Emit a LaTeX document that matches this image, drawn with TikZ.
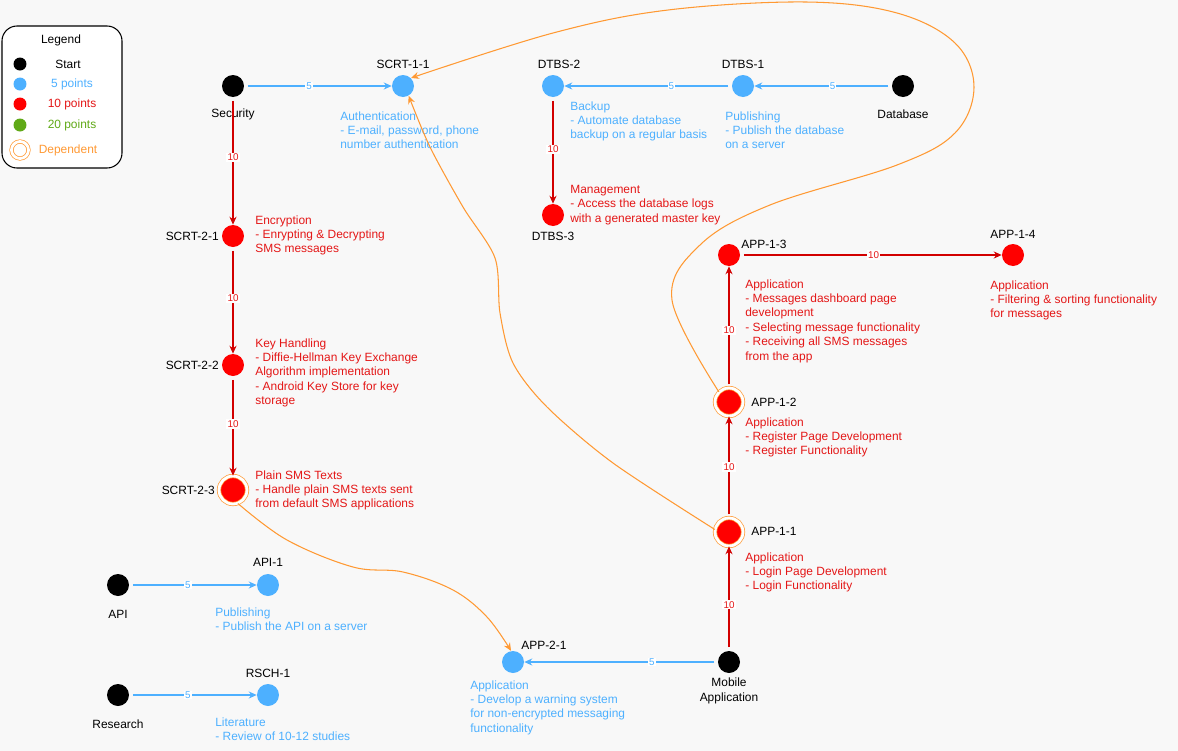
\documentclass[tikz,border=0pt]{standalone}
\usepackage{fontspec}
\setmainfont{Liberation Sans}
\usepackage{xcolor}
\usetikzlibrary{arrows.meta}

\definecolor{cbg}{RGB}{248,248,248}
\definecolor{cblue}{RGB}{77,176,255}
\definecolor{cred}{RGB}{255,0,0}
\definecolor{credln}{RGB}{210,0,0}
\definecolor{credtx}{RGB}{228,22,22}
\definecolor{corange}{RGB}{255,153,51}
\definecolor{cgreen}{RGB}{96,169,23}

\begin{document}
\begin{tikzpicture}[x=0.02cm,y=-0.02cm,
    every node/.style={font=\fontsize{6.8}{8.2}\selectfont},
    startdot/.style={circle,fill=black,minimum size=0.44cm,inner sep=0pt},
    fivedot/.style={circle,fill=cblue,minimum size=0.44cm,inner sep=0pt},
    tendot/.style={circle,fill=cred,minimum size=0.44cm,inner sep=0pt},
    twentydot/.style={circle,fill=cgreen,minimum size=0.44cm,inner sep=0pt},
    depdot/.style={circle,fill=cred,minimum size=0.56cm,inner sep=0pt,
        draw=corange,line width=0.4pt,double=white,double distance=1.6pt},
    fiveline/.style={draw=cblue,line width=0.6pt,shorten <=2pt,-{Stealth[length=4.5pt,width=4pt]}},
    tenline/.style={draw=credln,line width=0.6pt,shorten <=2pt,-{Stealth[length=4.5pt,width=4pt]}},
    depline/.style={draw=corange,line width=0.6pt,-{Stealth[length=4.5pt,width=4pt]}},
    fivelbl/.style={fill=white,text=cblue,inner sep=0.6pt,font=\fontsize{5.6}{6}\selectfont},
    tenlbl/.style={fill=white,text=credtx,inner sep=0.6pt,font=\fontsize{5.6}{6}\selectfont},
    idtag/.style={inner sep=0pt},
    bluetxt/.style={text=cblue,align=left,anchor=north west,inner sep=0pt},
    redtxt/.style={text=credtx,align=left,anchor=north west,inner sep=0pt}]

    % page
    \fill[cbg] (0,0) rectangle (1178,751);
    \useasboundingbox (0,0) rectangle (1178,751);

    % legend
    \draw[rounded corners=0.3cm,fill=white,line width=0.6pt] (2,26) rectangle (122,168);
    \node (lg-title) at (61,40) {Legend};
    \node[startdot,minimum size=0.26cm] (lg-start) at (20,64) {};
    \node (lg-start-txt) at (68,64) {Start};
    \node[fivedot,minimum size=0.26cm] (lg-five) at (20,84) {};
    \node[text=cblue] (lg-five-txt) at (72,84) {5 points};
    \node[tendot,minimum size=0.26cm] (lg-ten) at (20,104) {};
    \node[text=credtx] (lg-ten-txt) at (72,104) {10 points};
    \node[twentydot,minimum size=0.26cm] (lg-twenty) at (20,125) {};
    \node[text=cgreen] (lg-twenty-txt) at (72,125) {20 points};
    \node[depdot,fill=white,minimum size=0.34cm] (lg-dep) at (20,150) {};
    \node[text=corange] (lg-dep-txt) at (68,150) {Dependent};

    % security
    \node[startdot] (sec) at (233,86) {};
    \node[idtag] (sec-id) at (233,114) {Security};
    \node[fivedot] (scrt11) at (403,86) {};
    \node[idtag] (scrt11-id) at (403,64) {SCRT-1-1};
    \node[bluetxt] (scrt11-txt) at (340,111) {Authentication\\- E-mail, password, phone\\number authentication};
    \node[tendot] (scrt21) at (233,236) {};
    \node[idtag,anchor=east] (scrt21-id) at (219,236) {SCRT-2-1};
    \node[redtxt] (scrt21-txt) at (255,215) {Encryption\\- Enrypting \& Decrypting\\SMS messages};
    \node[tendot] (scrt22) at (233,365) {};
    \node[idtag,anchor=east] (scrt22-id) at (219,365) {SCRT-2-2};
    \node[redtxt] (scrt22-txt) at (255,338) {Key Handling\\- Diffie-Hellman Key Exchange\\Algorithm implementation\\- Android Key Store for key\\storage};
    \node[depdot] (scrt23) at (233,490) {};
    \node[idtag,anchor=east] (scrt23-id) at (215,490) {SCRT-2-3};
    \node[redtxt] (scrt23-txt) at (255,470) {Plain SMS Texts\\- Handle plain SMS texts sent\\from default SMS applications};

    % database
    \node[startdot] (dbs) at (903,86) {};
    \node[idtag] (dbs-id) at (903,114) {Database};
    \node[fivedot] (dtbs1) at (743,86) {};
    \node[idtag] (dtbs1-id) at (743,64) {DTBS-1};
    \node[bluetxt] (dtbs1-txt) at (725,111) {Publishing\\- Publish the database\\on a server};
    \node[fivedot] (dtbs2) at (553,86) {};
    \node[idtag] (dtbs2-id) at (559,64) {DTBS-2};
    \node[bluetxt] (dtbs2-txt) at (570,101) {Backup\\- Automate database\\backup on a regular basis};
    \node[tendot] (dtbs3) at (553,215) {};
    \node[idtag] (dtbs3-id) at (553,236) {DTBS-3};
    \node[redtxt] (dtbs3-txt) at (570,185) {Management\\- Access the database logs\\with a generated master key};

    % mobile application
    \node[startdot] (mob) at (729,662) {};
    \node[idtag,align=center] (mob-id) at (729,691) {Mobile\\Application};
    \node[depdot] (app11) at (729,532) {};
    \node[idtag,anchor=west] (app11-id) at (751,531) {APP-1-1};
    \node[redtxt] (app11-txt) at (745,552) {Application\\- Login Page Development\\- Login Functionality};
    \node[depdot] (app12) at (729,402) {};
    \node[idtag,anchor=west] (app12-id) at (751,402) {APP-1-2};
    \node[redtxt] (app12-txt) at (745,417) {Application\\- Register Page Development\\- Register Functionality};
    \node[tendot] (app13) at (729,255) {};
    \node[idtag,anchor=west] (app13-id) at (741,244) {APP-1-3};
    \node[redtxt] (app13-txt) at (745,279) {Application\\- Messages dashboard page\\development\\- Selecting message functionality\\- Receiving all SMS messages\\from the app};
    \node[tendot] (app14) at (1013,255) {};
    \node[idtag] (app14-id) at (1013,234) {APP-1-4};
    \node[redtxt] (app14-txt) at (990,280) {Application\\- Filtering \& sorting functionality\\for messages};
    \node[fivedot] (app21) at (513,662) {};
    \node[idtag,anchor=west] (app21-id) at (521,645) {APP-2-1};
    \node[bluetxt] (app21-txt) at (470,680) {Application\\- Develop a warning system\\for non-encrypted messaging\\functionality};

    % api and research
    \node[startdot] (api) at (118,585) {};
    \node[idtag] (api-id) at (118,614) {API};
    \node[fivedot] (api1) at (268,585) {};
    \node[idtag] (api1-id) at (268,562) {API-1};
    \node[bluetxt] (api1-txt) at (215,607) {Publishing\\- Publish the API on a server};
    \node[startdot] (rsch) at (118,695) {};
    \node[idtag] (rsch-id) at (118,724) {Research};
    \node[fivedot] (rsch1) at (268,695) {};
    \node[idtag] (rsch1-id) at (268,673) {RSCH-1};
    \node[bluetxt] (rsch1-txt) at (215,717) {Literature\\- Review of 10-12 studies};

    % point connectors
    \draw[fiveline] (sec) -- node[fivelbl,pos=0.44]{5} (scrt11);
    \draw[tenline] (sec) -- node[tenlbl,pos=0.47]{10} (scrt21);
    \draw[tenline] (scrt21) -- node[tenlbl,pos=0.48]{10} (scrt22);
    \draw[tenline] (scrt22) -- node[tenlbl,pos=0.48]{10} (scrt23);
    \draw[fiveline] (dbs) -- node[fivelbl,pos=0.43]{5} (dtbs1);
    \draw[fiveline] (dtbs1) -- node[fivelbl,pos=0.36]{5} (dtbs2);
    \draw[tenline] (dtbs2) -- node[tenlbl,pos=0.49]{10} (dtbs3);
    \draw[tenline] (mob) -- node[tenlbl,pos=0.44]{10} (app11);
    \draw[tenline] (app11) -- node[tenlbl,pos=0.5]{10} (app12);
    \draw[tenline] (app12) -- node[tenlbl,pos=0.475]{10} (app13);
    \draw[tenline] (app13) -- node[tenlbl,pos=0.51]{10} (app14);
    \draw[fiveline] (mob) -- node[fivelbl,pos=0.34]{5} (app21);
    \draw[fiveline] (api) -- node[fivelbl,pos=0.46]{5} (api1);
    \draw[fiveline] (rsch) -- node[fivelbl,pos=0.46]{5} (rsch1);

    % dependencies
    \draw[depline] plot[smooth,tension=0.6] coordinates {(app12.135) (672,300) (700,245)
        (770,205) (897,165) (955,133) (974,87) (955,43) (897,13) (806,2) (668,10)
        (553,33) (scrt11.45)};
    \draw[depline] plot[smooth,tension=0.5] coordinates {(app11.170) (613,463) (547,407)
        (513,363) (500,313) (495,258) (463,207) (430,147) (scrt11.-60)};
    \draw[depline] plot[smooth,tension=0.6] coordinates {(scrt23.-70) (287,540) (353,567)
        (403,572) (453,590) (487,617) (app21.100)};
\end{tikzpicture}
\end{document}
